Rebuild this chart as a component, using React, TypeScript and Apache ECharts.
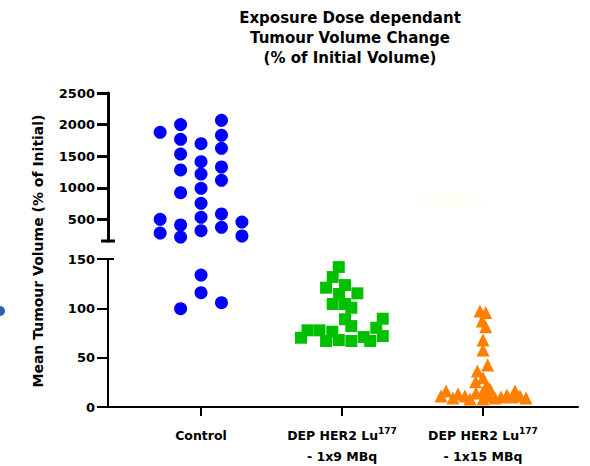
import React, { useEffect, useRef } from "react";
import * as echarts from "echarts";

// ---- data ----
const categoryNames = ["Control", "DEP HER2 Lu", "DEP HER2 Lu"];
const categorySup = ["", "177", "177"];
const categorySub = ["", "- 1x9 MBq", "- 1x15 MBq"];

const upperTicks = [500, 1000, 1500, 2000, 2500];
const lowerTicks = [0, 50, 100, 150];

// Control group: horizontal jitter (category units) and value (% of initial)
const controlOffsets = [
  -0.29, -0.29, -0.29,
  -0.145, -0.145, -0.145, -0.145, -0.145, -0.145, -0.145, -0.145,
  0, 0, 0, 0, 0, 0, 0, 0, 0,
  0.145, 0.145, 0.145, 0.145, 0.145, 0.145, 0.145, 0.145,
  0.29, 0.29,
];
const controlValues = [
  1879, 503, 286,
  2000, 1768, 1535, 1283, 924, 413, 223, 99.6,
  1698, 1414, 1219, 993, 756, 535, 323, 133.7, 115.8,
  2068, 1831, 1626, 1330, 1120, 587, 377, 105.7,
  460, 239,
];

// 1x9 MBq group
const dose9Offsets = [
  -0.023, -0.066, -0.113, 0.021, 0.109, -0.021, -0.066, 0.021, 0.066, 0.021,
  0.289, 0.243, 0.066, 0.289, -0.16, -0.069, -0.245, -0.291, -0.113, -0.023,
  0.066, 0.154, 0.2,
];
const dose9Values = [
  141.8, 131.7, 120.9, 123.6, 115.2, 114.5, 104.4, 104.4, 100.6, 88.9,
  89.5, 80.3, 82, 71.9, 77.7, 76.3, 77.7, 70.2, 66.9, 67.9,
  66.9, 70.9, 66.9,
];

// 1x15 MBq group
const dose15Offsets = [
  -0.021, 0.019, -0.005, 0.019, 0, 0, 0.033, -0.04, 0, -0.052, 0.026,
  -0.298, -0.262, -0.213, -0.177, -0.128, -0.092, -0.05, 0, 0.043, 0,
  0.085, 0.128, 0.17, 0.206, 0.227, 0.262, 0.305, 0.05,
];
const dose15Values = [
  97.3, 95.9, 87.1, 81.4, 67.9, 57.8, 42.6, 36.5, 29.7, 25.6, 21.6,
  11.1, 16.2, 9.1, 13.2, 11.1, 8.1, 14.2, 15.2, 11.1, 8.1,
  9.1, 10.1, 12.2, 10.1, 16.2, 11.1, 9.1, 18.2,
];

const BREAK_LOW = 160; // bottom of the upper axis segment

const FONT = "DejaVu Sans";

function pts(cat: number, offs: number[], vals: number[], upper: boolean) {
  const out: number[][] = [];
  for (let i = 0; i < vals.length; i++) {
    const v = vals[i];
    if (upper ? v >= BREAK_LOW : v < BREAK_LOW) out.push([cat + offs[i], v]);
  }
  return out;
}

export default function App() {
  const ref = useRef<HTMLDivElement>(null);

  useEffect(() => {
    if (!ref.current) return;
    const chart = echarts.init(ref.current, undefined, { renderer: "svg" });

    const xMin = -0.66;
    const xMax = 2.674;

    const gridLeft = 108;
    const upperTop = 93;
    const upperH = 148;
    const lowerTop = 259;
    const lowerH = 148;

    const labelStyle = {
      fontFamily: FONT,
      fontWeight: "bold" as const,
      fontSize: 13,
      color: "#000",
      formatter: (v: number) => String(v),
    };

    const option: any = {
      animation: false,
      backgroundColor: "#fff",
      title: {
        text: "Exposure Dose dependant\nTumour Volume Change\n(% of Initial Volume)",
        left: 345,
        top: 3,
        textAlign: "center",
        textStyle: {
          fontFamily: FONT,
          fontWeight: "bold",
          fontSize: 15,
          lineHeight: 20,
          color: "#000",
        },
      },
      grid: [
        { left: gridLeft, right: 12, top: upperTop, height: upperH },
        { left: gridLeft, right: 12, top: lowerTop, height: lowerH },
      ],
      xAxis: [
        {
          gridIndex: 0,
          type: "value",
          min: xMin,
          max: xMax,
          show: false,
        },
        {
          gridIndex: 1,
          type: "value",
          min: xMin,
          max: xMax,
          splitLine: { show: false },
          axisLine: { show: true, onZero: false, lineStyle: { color: "#000", width: 2 } },
          axisTick: {
            show: true,
            customValues: [0, 1, 2],
            length: 9,
            lineStyle: { color: "#000", width: 2 },
          },
          axisLabel: {
            customValues: [0, 1, 2],
            margin: 18,
            fontFamily: FONT,
            fontWeight: "bold",
            fontSize: 12.5,
            color: "#000",
            formatter: (v: number) => {
              const i = Math.round(v);
              let s = "{b|" + categoryNames[i] + "}";
              if (categorySup[i]) s += "{s|" + categorySup[i] + "}";
              if (categorySub[i]) s += "\n{b|" + categorySub[i] + "}";
              return s;
            },
            rich: {
              b: {
                fontFamily: FONT,
                fontWeight: "bold",
                fontSize: 12.5,
                lineHeight: 21,
                color: "#000",
              },
              s: {
                fontFamily: FONT,
                fontWeight: "bold",
                fontSize: 9,
                padding: [0, 0, 10, 0],
                color: "#000",
              },
            },
          },
        },
      ],
      yAxis: [
        {
          gridIndex: 0,
          type: "value",
          min: BREAK_LOW,
          max: 2500,
          splitLine: { show: false },
          axisLine: { show: true, onZero: false, lineStyle: { color: "#000", width: 3 } },
          axisTick: {
            show: true,
            customValues: upperTicks,
            length: 11,
            lineStyle: { color: "#000", width: 3 },
          },
          axisLabel: { ...labelStyle, customValues: upperTicks, margin: 13 },
        },
        {
          gridIndex: 1,
          type: "value",
          min: 0,
          max: 150,
          splitLine: { show: false },
          axisLine: { show: true, onZero: false, lineStyle: { color: "#000", width: 2 } },
          axisTick: {
            show: true,
            customValues: lowerTicks,
            length: 11,
            lineStyle: { color: "#000", width: 2 },
          },
          axisLabel: { ...labelStyle, customValues: lowerTicks, margin: 13 },
        },
      ],
      graphic: [
        // axis break marks
        {
          type: "line",
          shape: { x1: gridLeft - 7, y1: upperTop + upperH, x2: gridLeft + 7, y2: upperTop + upperH },
          style: { stroke: "#000", lineWidth: 3 },
        },
        {
          type: "line",
          shape: { x1: gridLeft, y1: lowerTop, x2: gridLeft + 6, y2: lowerTop },
          style: { stroke: "#000", lineWidth: 2 },
        },
        {
          type: "text",
          x: 38,
          y: 251,
          rotation: Math.PI / 2,
          style: {
            text: "Mean Tumour Volume (% of Initial)",
            fontFamily: FONT,
            fontWeight: "bold",
            fontSize: 14,
            fill: "#000",
            align: "center",
            verticalAlign: "middle",
          },
        },
        {
          type: "text",
          x: 421,
          y: 200,
          style: {
            text: "HER2-",
            fontFamily: "Liberation Sans",
            fontWeight: "bold",
            fontSize: 22,
            fill: "#fffff2",
            align: "left",
            verticalAlign: "middle",
          },
        },
        {
          type: "circle",
          shape: { cx: 0, cy: 311, r: 5 },
          style: { fill: "#2a64a8" },
        },
      ],
      series: [
        {
          type: "scatter",
          xAxisIndex: 0,
          yAxisIndex: 0,
          symbol: "circle",
          symbolSize: 13,
          itemStyle: { color: "#0000ff", opacity: 1 },
          data: pts(0, controlOffsets, controlValues, true),
        },
        {
          type: "scatter",
          xAxisIndex: 1,
          yAxisIndex: 1,
          symbol: "circle",
          symbolSize: 13,
          itemStyle: { color: "#0000ff", opacity: 1 },
          data: pts(0, controlOffsets, controlValues, false),
        },
        {
          type: "scatter",
          xAxisIndex: 1,
          yAxisIndex: 1,
          symbol: "rect",
          symbolSize: 12,
          itemStyle: { color: "#00c000", opacity: 1 },
          data: pts(1, dose9Offsets, dose9Values, false),
        },
        {
          type: "scatter",
          xAxisIndex: 1,
          yAxisIndex: 1,
          symbol: "triangle",
          symbolSize: 13,
          itemStyle: { color: "#ff8000", opacity: 1 },
          data: pts(2, dose15Offsets, dose15Values, false),
        },
      ],
    };

    chart.setOption(option);
    return () => chart.dispose();
  }, []);

  return (
    <div
      ref={ref}
      style={{ position: "fixed", left: 0, top: 0, width: 590, height: 466 }}
    />
  );
}
